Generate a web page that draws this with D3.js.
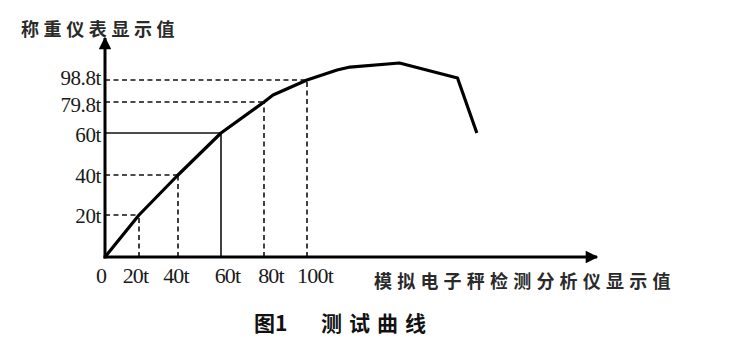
<!DOCTYPE html>
<html>
<head>
<meta charset="utf-8">
<script src="https://cdn.jsdelivr.net/npm/d3@7"></script>
<style>
  body { margin: 0; background: #fff; }
  .tick-label { font-family: "Liberation Serif", "DejaVu Serif", serif; font-size: 22px; fill: #1a1a1a; }
  .cjk { font-family: "Noto Sans CJK SC", sans-serif; fill: #2a2a2a; }
  .guide { stroke: #111; stroke-width: 1.6; fill: none; }
  .guide.dashed { stroke-dasharray: 5,3.5; }
  .axis-line { stroke: #000; stroke-width: 3; }
  .curve { stroke: #000; stroke-width: 3.2; fill: none; stroke-linejoin: round; }
</style>
</head>
<body>
<script>
// tick values and labels
const xTicks = [0, 20, 40, 60, 80, 100];
const xTickLabels = ["0", "20t", "40t", "60t", "80t", "100t"];
const yTicks = [20, 40, 60, 79.8, 98.8];
const yTickLabels = ["20t", "40t", "60t", "79.8t", "98.8t"];

// test curve: analyser reading vs. weighing instrument reading
const curveX = [0, 20, 40, 60, 80, 84.2, 100, 114, 120, 143, 170, 179];
const curveY = [0, 20, 40, 60, 79.8, 85.8, 98.8, 107.4, 110, 113.5, 100.5, 60];

// which curve points get guide lines, and their style
const guideIdx = [1, 2, 3, 4, 6];
const guideDashed = [true, true, false, true, true];

const yTitle = "称重仪表显示值";
const xTitle = "模拟电子秤检测分析仪显示值";
const figTitle = ["图1", "测试曲线"];

const W = 732, H = 344;
const origin = {x: 105, y: 257};

// schematic axes: piecewise linear scales through the labelled points
let x = d3.scaleLinear()
    .domain(xTicks)
    .range([origin.x, 139, 178, 221, 264, 307]);
let y = d3.scaleLinear()
    .domain([0].concat(yTicks))
    .range([origin.y, 215, 175, 133, 102, 80]);

let svg = d3.select("body").append("svg")
    .attr("width", W)
    .attr("height", H);

svg.append("defs").append("marker")
    .attr("id", "arrow")
    .attr("viewBox", "0 0 10 10")
    .attr("refX", 9).attr("refY", 5)
    .attr("markerWidth", 5).attr("markerHeight", 4.2)
    .attr("markerUnits", "strokeWidth")
    .attr("orient", "auto")
    .append("path")
    .attr("d", "M0,0 L10,5 L0,10 Z")
    .attr("fill", "#000");

// guide lines from axes to curve points
let guides = svg.append("g");
guideIdx.forEach(function(i, k) {
    let px = x(curveX[i]), py = y(curveY[i]);
    let cls = "guide" + (guideDashed[k] ? " dashed" : "");
    guides.append("line").attr("class", cls)
        .attr("x1", origin.x).attr("y1", py)
        .attr("x2", px).attr("y2", py);
    guides.append("line").attr("class", cls)
        .attr("x1", px).attr("y1", origin.y)
        .attr("x2", px).attr("y2", py);
});

// axes with arrows
svg.append("line").attr("class", "axis-line")
    .attr("x1", origin.x - 1.5).attr("y1", origin.y)
    .attr("x2", 597).attr("y2", origin.y)
    .attr("marker-end", "url(#arrow)");
svg.append("line").attr("class", "axis-line")
    .attr("x1", origin.x).attr("y1", origin.y + 1.5)
    .attr("x2", origin.x).attr("y2", 38)
    .attr("marker-end", "url(#arrow)");

// the curve
let line = d3.line()
    .x(function(d) { return x(d[0]); })
    .y(function(d) { return y(d[1]); });
svg.append("path")
    .datum(d3.zip(curveX, curveY))
    .attr("class", "curve")
    .attr("d", line);

// tick labels
let xOffsets = [-4, -3.5, -2, 6.5, 7, 8];
svg.append("g").selectAll("text")
    .data(xTicks)
    .enter().append("text")
    .attr("class", "tick-label")
    .attr("x", (d, i) => x(d) + xOffsets[i])
    .attr("y", 283)
    .attr("text-anchor", "middle")
    .style("letter-spacing", "-0.8px")
    .text((d, i) => xTickLabels[i]);

// the two top labels sit close together; nudge them apart a little
let yOffsets = [1, 1, 2, 2.5, -2.5];
svg.append("g").selectAll("text")
    .data(yTicks)
    .enter().append("text")
    .attr("class", "tick-label")
    .attr("x", 101)
    .attr("y", (d, i) => y(d) + yOffsets[i])
    .attr("dy", "0.35em")
    .attr("text-anchor", "end")
    .style("font-size", "21px")
    .style("letter-spacing", "-0.4px")
    .text((d, i) => yTickLabels[i]);

// axis titles
svg.append("text")
    .attr("class", "cjk")
    .attr("x", 21).attr("y", 36)
    .style("font-size", "18px")
    .style("font-weight", 700)
    .style("letter-spacing", "4.6px")
    .text(yTitle);

svg.append("text")
    .attr("class", "cjk")
    .attr("x", 374).attr("y", 288)
    .style("font-size", "18px")
    .style("font-weight", 700)
    .style("letter-spacing", "5.2px")
    .text(xTitle);

// figure caption
svg.append("text")
    .attr("class", "cjk")
    .attr("x", 254).attr("y", 331)
    .style("font-size", "21px")
    .style("font-weight", 700)
    .style("fill", "#111")
    .text(figTitle[0]);
svg.append("text")
    .attr("class", "cjk")
    .attr("x", 321).attr("y", 331)
    .style("font-size", "21px")
    .style("font-weight", 700)
    .style("letter-spacing", "7px")
    .style("fill", "#111")
    .text(figTitle[1]);
</script>
</body>
</html>
